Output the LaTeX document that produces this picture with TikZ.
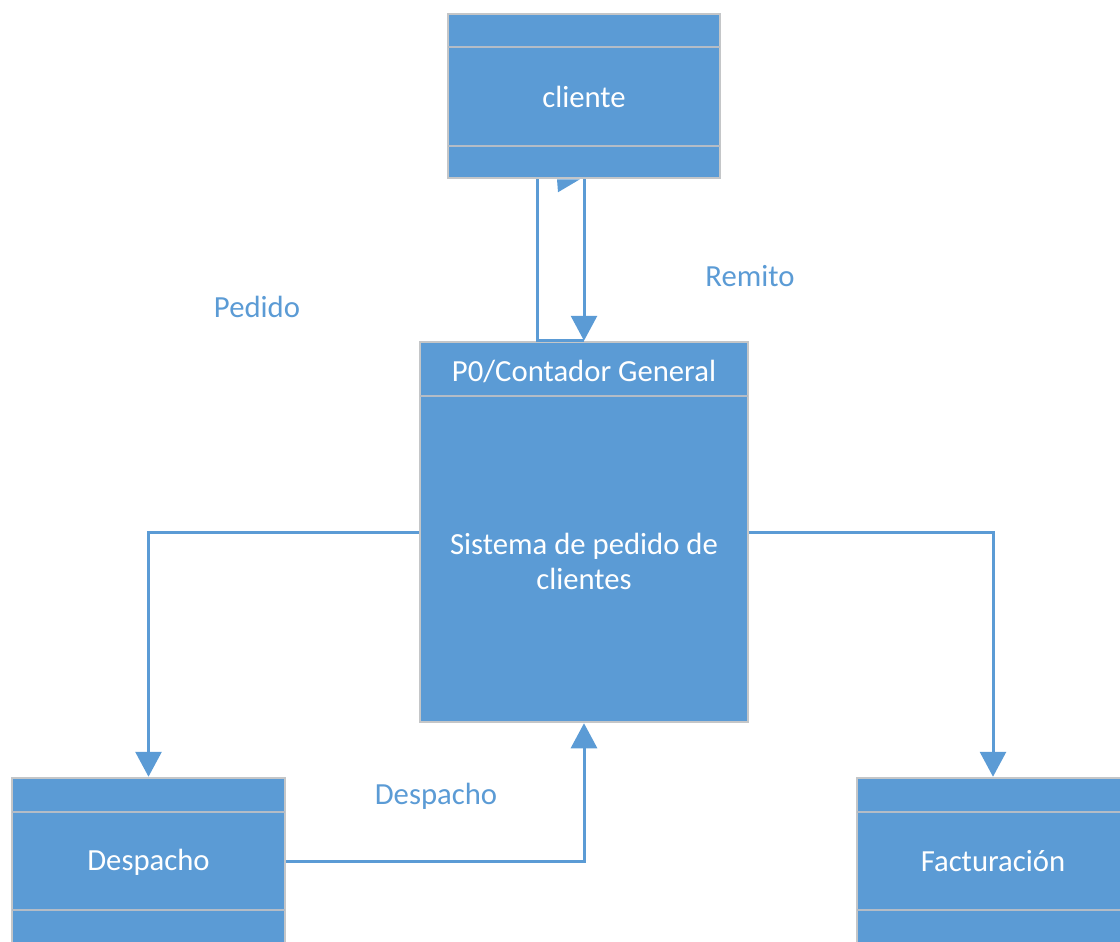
\documentclass[tikz,border=0pt]{standalone}
\usepackage{fontspec}
\setmainfont{Carlito}
\usetikzlibrary{arrows.meta,calc}
\definecolor{boxblue}{HTML}{5B9BD5}
\definecolor{edgegray}{HTML}{C4C6C8}
\definecolor{sepgray}{HTML}{B4BCC6}
\begin{document}
\begin{tikzpicture}[x=1pt,y=-1pt,
  box/.style={draw=edgegray, line width=2.5pt, fill=boxblue, inner sep=0pt},
  boxtext/.style={text=white, font=\fontsize{30.7}{35}\selectfont, align=center},
  sep/.style={draw=sepgray, line width=2.5pt},
  flow/.style={draw=boxblue, line width=3pt, -{Triangle[width=26pt,length=25pt]}},
  plain/.style={draw=boxblue, line width=3pt},
  flowlabel/.style={text=boxblue, font=\fontsize{30.7}{35}\selectfont}]
\useasboundingbox (0,0) rectangle (1120,942);
\clip (0,0) rectangle (1120,942);

% entity: cliente
\node[box, minimum width=272pt, minimum height=164pt] (cli) at (584,96) {};
\node[boxtext] (clitxt) at (584,97) {cliente};
\draw[sep] (448,47) -- (720,47);
\draw[sep] (448,146) -- (720,146);

% process P0
\node[box, minimum width=328pt, minimum height=380pt] (p0) at (584,532) {};
\node[boxtext] (p0title) at (584,371) {P0/Contador General};
\node[boxtext] (p0body) at (584,561) {Sistema de pedido de\\clientes};
\draw[sep] (420,396) -- (748,396);

% entity: Despacho
\node[box, minimum width=273pt, minimum height=166pt] (desp) at (148.5,861) {};
\node[boxtext] (desptxt) at (148.5,862) {Despacho};
\draw[sep] (12,812) -- (285,812);
\draw[sep] (12,910) -- (285,910);

% entity: Facturación
\node[box, minimum width=272pt, minimum height=166pt] (fac) at (993,861) {};
\node[boxtext] (factxt) at (993,861) {Facturación};
\draw[sep] (857,812) -- (1129,812);
\draw[sep] (857,910) -- (1129,910);

% data flows
\draw[flow] (cli.south) -- (p0.north);
\draw[plain] (p0.north) -- ([xshift=-47pt]p0.north) -- ([xshift=-47pt]cli.south);
\fill[boxblue] ([xshift=-27pt]cli.south) -- ([xshift=-4pt]cli.south) -- ([xshift=-26pt,yshift=-13pt]cli.south) -- cycle;
\draw[flow] (p0.west) -| (desp.north);
\draw[flow] (p0.east) -| (fac.north);
\draw[flow] (desp.east) -| (p0.south);

% flow labels
\node[flowlabel] (lpedido) at (257,307) {Pedido};
\node[flowlabel] (lremito) at (750,276) {Remito};
\node[flowlabel] (ldesp) at (436,796) {Despacho};
\end{tikzpicture}
\end{document}
